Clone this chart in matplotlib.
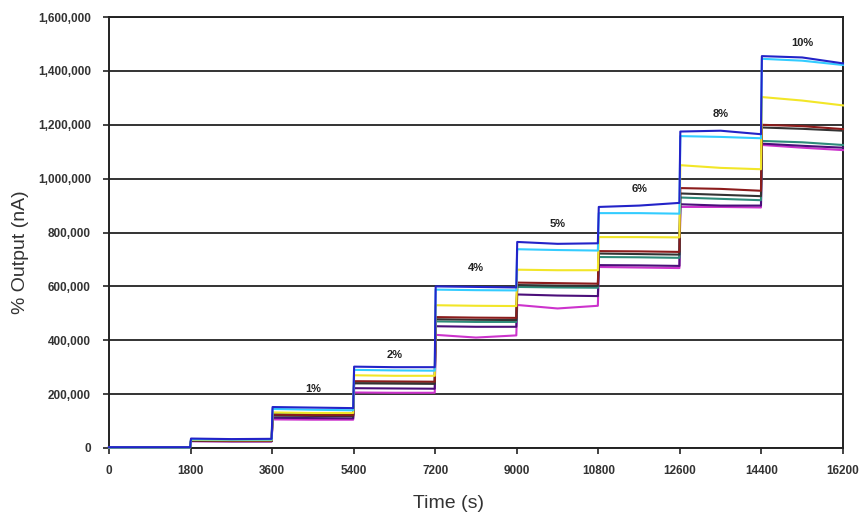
import matplotlib
matplotlib.use("Agg")
import matplotlib.pyplot as plt
from matplotlib.ticker import FuncFormatter

# Time points (s): start / middle / end of each concentration step
times = [0, 900, 1790,
         1810, 2700, 3590,
         3610, 4500, 5390,
         5410, 6300, 7190,
         7210, 8100, 8990,
         9010, 9900, 10790,
         10810, 11700, 12590,
         12610, 13500, 14390,
         14410, 15300, 16200]

# Output values (nA)
blue = [3000, 3000, 3000,
        35000, 33000, 34000,
        152000, 150000, 148000,
        302000, 300000, 300000,
        600000, 598000, 596000,
        765000, 758000, 760000,
        895000, 900000, 910000,
        1175000, 1178000, 1165000,
        1455000, 1450000, 1428000]
cyan = [2000, 2000, 2000,
        32000, 31000, 31000,
        145000, 142000, 140000,
        290000, 288000, 287000,
        588000, 586000, 585000,
        738000, 735000, 733000,
        872000, 872000, 870000,
        1158000, 1155000, 1150000,
        1445000, 1438000, 1422000]
yellow = [2000, 2000, 2000,
          30000, 29000, 29000,
          132000, 130000, 130000,
          270000, 268000, 268000,
          530000, 528000, 527000,
          662000, 660000, 660000,
          783000, 783000, 782000,
          1050000, 1040000, 1035000,
          1303000, 1290000, 1272000]
brown = [2000, 2000, 2000,
         28000, 27000, 27000,
         124000, 122000, 122000,
         248000, 247000, 246000,
         486000, 484000, 483000,
         614000, 612000, 610000,
         731000, 730000, 728000,
         965000, 962000, 955000,
         1200000, 1195000, 1184000]
dark = [2000, 2000, 2000,
        27000, 26000, 26000,
        120000, 119000, 118000,
        240000, 239000, 238000,
        478000, 476000, 475000,
        605000, 603000, 602000,
        722000, 720000, 718000,
        945000, 940000, 935000,
        1190000, 1185000, 1178000]
teal = [2000, 2000, 2000,
        27000, 26000, 26000,
        126000, 125000, 124000,
        245000, 244000, 243000,
        470000, 468000, 468000,
        598000, 596000, 595000,
        709000, 708000, 706000,
        930000, 925000, 920000,
        1140000, 1135000, 1125000]
purple = [2000, 2000, 2000,
          26000, 25000, 25000,
          112000, 111000, 110000,
          222000, 221000, 220000,
          452000, 450000, 450000,
          570000, 566000, 564000,
          679000, 678000, 676000,
          905000, 900000, 900000,
          1130000, 1122000, 1115000]
magenta = [2000, 2000, 2000,
           25000, 24000, 24000,
           106000, 105000, 105000,
           206000, 205000, 205000,
           420000, 410000, 418000,
           531000, 518000, 528000,
           672000, 670000, 668000,
           895000, 895000, 893000,
           1125000, 1115000, 1106000]

series = [
    (magenta, "#cc33cc"),
    (purple, "#4b0f7a"),
    (teal, "#2e8b7a"),
    (dark, "#333333"),
    (brown, "#8b1c1c"),
    (yellow, "#f2e628"),
    (cyan, "#33ccff"),
    (blue, "#2323c8"),
]

x_ticks = [0, 1800, 3600, 5400, 7200, 9000, 10800, 12600, 14400, 16200]
y_ticks = [0, 200000, 400000, 600000, 800000, 1000000, 1200000, 1400000, 1600000]

step_labels = ["1%", "2%", "4%", "5%", "6%", "8%", "10%"]
step_label_x = [4500, 6300, 8100, 9900, 11700, 13500, 15300]
step_label_y = [220000, 345000, 670000, 830000, 960000, 1240000, 1505000]

fig = plt.figure(figsize=(8.63, 5.17), dpi=100)
ax = fig.add_axes([0.1263, 0.1335, 0.8505, 0.8335])

for vals, col in series:
    ax.plot(times, vals, color=col, lw=1.5, solid_joinstyle="round",
            clip_on=False, zorder=3)

ax.set_xlim(0, 16200)
ax.set_ylim(0, 1600000)
ax.set_xticks(x_ticks)
ax.set_yticks(y_ticks)
ax.set_xticklabels([str(t) for t in x_ticks], fontweight="bold", fontsize=8.5,
                   family="Liberation Sans", color="#333333")
ax.yaxis.set_major_formatter(FuncFormatter(lambda v, p: f"{int(v):,}"))
for lab in ax.get_yticklabels():
    lab.set_fontweight("bold")
    lab.set_fontsize(8.5)
    lab.set_family("Liberation Sans")
    lab.set_color("#333333")
ax.tick_params(axis="both", direction="out", length=4, width=1.2, color="#222222")
ax.tick_params(axis="x", pad=8)
ax.tick_params(axis="y", pad=9)

ax.grid(axis="y", color="#111111", lw=1.2)
ax.set_axisbelow(True)
for s in ax.spines.values():
    s.set_color("#222222")
    s.set_linewidth(1.4)
    s.set_zorder(2.5)

for lab, xx, yy in zip(step_labels, step_label_x, step_label_y):
    ax.text(xx, yy, lab, ha="center", va="center", fontsize=8, fontweight="bold",
            family="Liberation Sans", color="#222222")

ax.set_xlabel("Time (s)", fontsize=14, family="Liberation Sans", color="#333333")
ax.xaxis.set_label_coords(0.462, -0.108)
ax.set_ylabel("% Output (nA)", fontsize=14, family="Liberation Sans", color="#333333")
ax.yaxis.set_label_coords(-0.109, 0.455)

fig.savefig("out.png", dpi=100)
